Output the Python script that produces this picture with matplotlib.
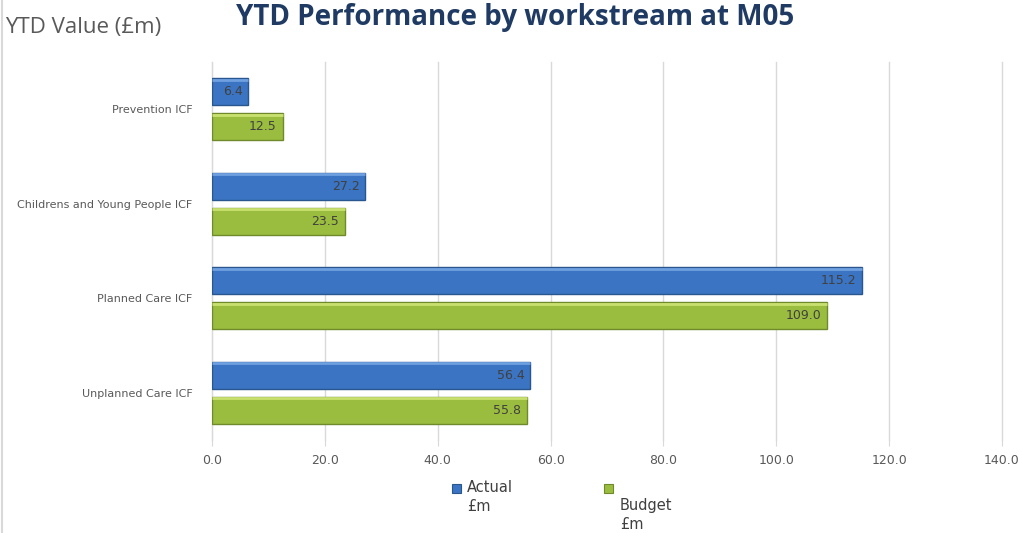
import matplotlib.pyplot as plt
import numpy as np
from matplotlib.patches import Rectangle
from matplotlib.lines import Line2D

# chart data
categories = ["Prevention ICF", "Childrens and Young People ICF", "Planned Care ICF", "Unplanned Care ICF"]
actual = [6.4, 27.2, 115.2, 56.4]
budget = [12.5, 23.5, 109.0, 55.8]
series_names = ["Actual\n£m", "Budget\n£m"]

blue = "#3b74c2"
blue_edge = "#2a568f"
green = "#9bbd3f"
green_edge = "#6f8a2a"
label_grey = "#595959"

fig = plt.figure(figsize=(10.19, 5.33), dpi=100)
ax = fig.add_axes([212 / 1019, 1 - 440 / 533, 790 / 1019, 378 / 533])

y = np.arange(len(categories))
h = 0.29
off = 0.185
bars_a = ax.barh(y - off, actual, height=h, color=blue, edgecolor=blue_edge, linewidth=1.0, zorder=3)
bars_b = ax.barh(y + off, budget, height=h, color=green, edgecolor=green_edge, linewidth=1.0, zorder=3)

# light highlight along top of each bar
for bars, hl in ((bars_a, "#6fa0e0"), (bars_b, "#c8e070")):
    for b in bars:
        ax.plot([b.get_x(), b.get_x() + b.get_width()], [b.get_y() + 0.02, b.get_y() + 0.02],
                color=hl, lw=2, zorder=4, solid_capstyle="butt")

for bars, vals in ((bars_a, actual), (bars_b, budget)):
    for b, v in zip(bars, vals):
        ax.text(v - 1.0, b.get_y() + b.get_height() / 2, f"{v:.1f}", ha="right", va="center",
                fontsize=9, color="#404040", zorder=5)

ax.set_xlim(0, 140)
ax.set_ylim(3.5, -0.5)
ax.set_xticks(np.arange(0, 141, 20))
ax.set_xticklabels([f"{t:.1f}" for t in np.arange(0, 141, 20)])
ax.set_yticks(y)
ax.set_yticklabels(categories)
ax.tick_params(axis="y", length=0, pad=14, labelsize=8, labelcolor=label_grey)
ax.tick_params(axis="x", length=4, color="#d9d9d9", pad=6, labelsize=9, labelcolor=label_grey)
ax.grid(axis="x", color="#d9d9d9", lw=1, zorder=0)
for gl in ax.get_xgridlines():
    gl.set_clip_on(False)
for s in ("top", "right", "bottom"):
    ax.spines[s].set_visible(False)
ax.spines["left"].set_color("#d9d9d9")

fig.text(515 / 1019, 1 - 18 / 533, "YTD Performance by workstream at M05", ha="center", va="center",
         fontsize=20, fontweight="bold", color="#1f3b63", family="Open Sans")
fig.text(5 / 1019, 1 - 27 / 533, "YTD Value (£m)", ha="left", va="center",
         fontsize=16, color=label_grey, family="Open Sans")

# legend
for x0, col, ec in ((452, blue, blue_edge), (604, green, green_edge)):
    fig.patches.append(Rectangle((x0 / 1019, 1 - 493 / 533), 9 / 1019, 9 / 533, transform=fig.transFigure,
                                 facecolor=col, edgecolor=ec, lw=0.8))
fig.text(467 / 1019, 1 - 480 / 533, series_names[0], ha="left", va="top", fontsize=10.5,
         color="#404040", linespacing=1.3)
fig.text(620 / 1019, 1 - 498 / 533, series_names[1], ha="left", va="top", fontsize=10.5,
         color="#404040", linespacing=1.3)

fig.lines.append(Line2D([2 / 1019, 2 / 1019], [0, 1], transform=fig.transFigure, color="#d9d9d9", lw=1.5))

fig.savefig("out.png", dpi=100)
